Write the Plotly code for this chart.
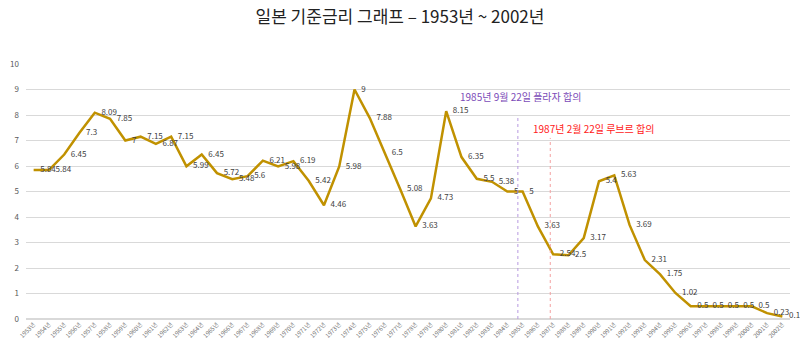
import plotly.graph_objects as go

years = list(range(1953, 2003))
rates = [5.84, 5.84, 6.45, 7.3, 8.09, 7.85, 7, 7.15, 6.87, 7.15,
         5.99, 6.45, 5.72, 5.48, 5.6, 6.21, 5.98, 6.19, 5.42, 4.46,
         5.98, 9, 7.88, 6.5, 5.08, 3.63, 4.73, 8.15, 6.35, 5.5,
         5.38, 5, 5, 3.63, 2.54, 2.5, 3.17, 5.4, 5.63, 3.69,
         2.31, 1.75, 1.02, 0.5, 0.5, 0.5, 0.5, 0.5, 0.23, 0.1]
tick_labels = [f"{y}년" for y in years]
labels = [f"{v:g}" for v in rates]

plaza_x, plaza_top = 1984.69, 8.0
louvre_x, louvre_top = 1986.81, 7.1

FONT = "Noto Sans CJK KR"

fig = go.Figure()
fig.add_trace(go.Scatter(
    x=years, y=rates, mode="lines+markers+text", text=labels,
    textposition="middle right",
    textfont=dict(family=FONT, size=8, color="#404040"),
    line=dict(color="#C09100", width=2.5),
    marker=dict(size=9, color="rgba(0,0,0,0)"),
    cliponaxis=False, hoverinfo="skip"))

fig.add_shape(type="line", x0=plaza_x, x1=plaza_x, y0=0, y1=plaza_top,
              line=dict(color="#B89AE0", width=1, dash="dot"))
fig.add_shape(type="line", x0=louvre_x, x1=louvre_x, y0=0, y1=louvre_top,
              line=dict(color="#F4A0A0", width=1, dash="dot"))

fig.add_annotation(x=1980.8, y=8.72, text="1985년 9월 22일 플라자 합의",
                   showarrow=False, xanchor="left", yanchor="middle",
                   font=dict(family=FONT, size=10, color="#7B4BB8"))
fig.add_annotation(x=1985.55, y=7.48, text="1987년 2월 22일 루브르 합의",
                   showarrow=False, xanchor="left", yanchor="middle",
                   font=dict(family=FONT, size=10, color="#FF2020"))

fig.update_layout(
    width=800, height=350,
    margin=dict(l=22, r=10, t=64, b=28),
    paper_bgcolor="white", plot_bgcolor="white",
    showlegend=False,
    title=dict(text="일본 기준금리 그래프 – 1953년 ~ 2002년", x=0.5, xanchor="center",
               y=0.95, yanchor="middle",
               font=dict(family=FONT, size=17, color="#222222")),
    font=dict(family=FONT),
)
fig.update_xaxes(range=[1952.5, 2002.5], tickmode="array", tickvals=years,
                 ticktext=tick_labels, tickangle=-45,
                 tickfont=dict(size=6, color="#707070"),
                 showgrid=False, zeroline=False, showline=False, ticks="")
fig.update_yaxes(range=[0, 10], dtick=1, showgrid=True, gridcolor="#D9D9D9",
                 gridwidth=1, zeroline=True, zerolinecolor="#D9D9D9",
                 tickfont=dict(size=8, color="#595959"), ticks="",
                 ticklabelstandoff=6)

fig.write_html("out.html")
